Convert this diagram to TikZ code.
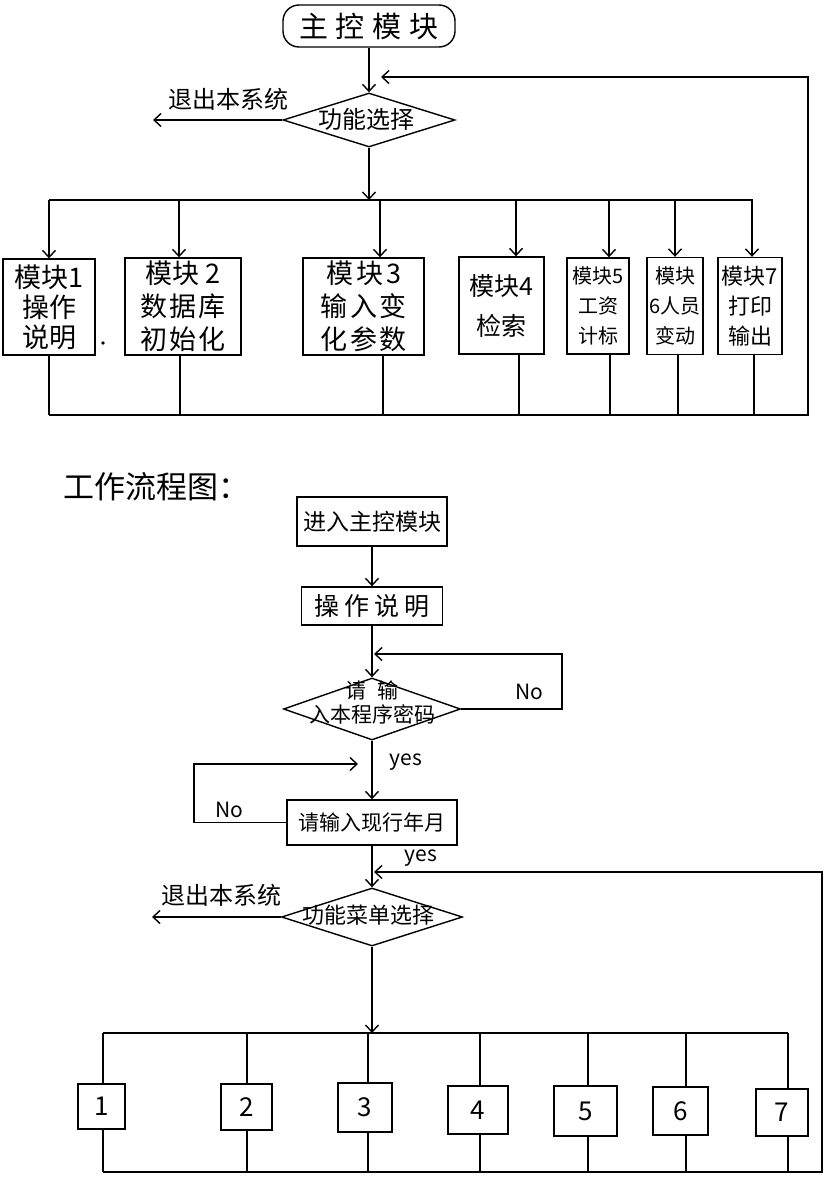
\documentclass[tikz,border=0pt]{standalone}
\usepackage{fontspec}
\setmainfont{Noto Sans CJK SC}
\usetikzlibrary{arrows.meta,shapes.geometric}
\newcommand{\myfs}[2]{\fontsize{#1pt}{#2pt}\selectfont}
\begin{document}
\begin{tikzpicture}[x=1pt,y=-1pt,line width=1.4pt,
  arr/.style={-{Straight Barb[length=7pt,width=13pt]}},
  box/.style={draw,rectangle,inner sep=0pt,align=center},
  dia/.style={draw,diamond,inner sep=0pt},
  lab/.style={inner sep=0pt,align=center}]
\useasboundingbox (0,0) rectangle (823,1177);

% ---------------- top diagram ----------------
\node[box,rounded corners=16pt,minimum width=172pt,minimum height=42pt,font=\myfs{29}{30}] (main) at (369,26) {主\hspace{8pt}控\hspace{8pt}模\hspace{8pt}块};
\node[dia,minimum width=172pt,minimum height=54pt] (d1) at (369,120) {};
\node[lab,font=\myfs{24}{26}] (d1t) at (366,119) {功能选择};
\coordinate (x1) at (153,120);
\node[lab,font=\myfs{24}{26}] (x1t) at (228,99) {退出本系统};
\draw[arr] (main) -- (d1);
\draw[arr] (d1.west) -- (x1);
\coordinate (bus1) at (369,200);
\draw[arr] (d1) -- (bus1);
\coordinate (bl1) at (49,200);
\coordinate (br1) at (753,200);
\draw (bl1) -- (br1);

\node[box,minimum width=92pt,minimum height=96pt,font=\myfs{27}{30}] (m1) at (49,307) {模块1\\操作\\说明};
\node[box,minimum width=116pt,minimum height=97pt,font=\myfs{27}{33}] (m2) at (183,306.5) {模块\hspace{6pt}2\\数\hspace{2pt}据\hspace{2pt}库\\初\hspace{2pt}始\hspace{2pt}化};
\node[box,minimum width=121pt,minimum height=97pt,font=\myfs{27}{33}] (m3) at (363.5,306.5) {模\hspace{3pt}块\hspace{3pt}3\\输\hspace{3pt}入\hspace{3pt}变\\化\hspace{3pt}参\hspace{3pt}数};
\node[box,minimum width=85pt,minimum height=97pt,font=\myfs{25}{26}] (m4) at (501.5,305.5) {模块4\\[14pt]检索};
\node[box,minimum width=62pt,minimum height=96pt,font=\myfs{20}{30}] (m5) at (598,306) {模块5\\工资\\计标};
\node[box,minimum width=56pt,minimum height=97pt,font=\myfs{20}{30}] (m6) at (675,306) {模块\\6人员\\变动};
\node[box,minimum width=64pt,minimum height=97pt,font=\myfs{22}{30}] (m7) at (750,306) {模块7\\打印\\输出};
\fill (103,343) circle (1.8pt);

\coordinate (t1) at (49,200);
\coordinate (t2) at (179,200);
\coordinate (t3) at (380,200);
\coordinate (t4) at (516,200);
\coordinate (t5) at (609,200);
\coordinate (t6) at (675,200);
\coordinate (t7) at (752,200);
\draw[arr] (t1) -- (t1 |- m1.north);
\draw[arr] (t2) -- (t2 |- m2.north);
\draw[arr] (t3) -- (t3 |- m3.north);
\draw[arr] (t4) -- (t4 |- m4.north);
\draw[arr] (t5) -- (t5 |- m5.north);
\draw[arr] (t6) -- (t6 |- m6.north);
\draw[arr] (t7) -- (t7 |- m7.north);

\coordinate (s1) at (49,415);
\coordinate (s2) at (180,415);
\coordinate (s3) at (383,415);
\coordinate (s4) at (519,415);
\coordinate (s5) at (610,415);
\coordinate (s6) at (678,415);
\coordinate (s7) at (754,415);
\draw (s1 |- m1.south) -- (s1);
\draw (s2 |- m2.south) -- (s2);
\draw (s3 |- m3.south) -- (s3);
\draw (s4 |- m4.south) -- (s4);
\draw (s5 |- m5.south) -- (s5);
\draw (s6 |- m6.south) -- (s6);
\draw (s7 |- m7.south) -- (s7);
\coordinate (bb1e) at (808,415);
\coordinate (r1) at (808,77);
\coordinate (r1e) at (381,77);
\draw[arr] (s1) -- (bb1e) -- (r1) -- (r1e);

% ---------------- bottom diagram ----------------
\node[lab,anchor=west,font=\myfs{31}{32}] (title) at (63,487) {工作流程图：};
\node[box,minimum width=150pt,minimum height=49pt,font=\myfs{23}{26}] (n1) at (372,521.5) {进入主控模块};
\node[box,minimum width=141pt,minimum height=38pt,font=\myfs{25}{28}] (n2) at (372,606) {操\hspace{5pt}作\hspace{5pt}说\hspace{5pt}明};
\node[dia,minimum width=177pt,minimum height=62pt] (d2) at (372,709) {};
\node[lab,font=\myfs{21}{24}] (d2t) at (372,703) {请\hspace{12pt}输\\入本程序密码};
\node[box,minimum width=170pt,minimum height=45pt,font=\myfs{21}{24}] (n3) at (372,822.5) {请输入现行年月};
\node[dia,minimum width=181pt,minimum height=58pt] (d3) at (372,917) {};
\node[lab,font=\myfs{22}{24}] (d3t) at (368,915) {功能菜单选择};

\draw[arr] (n1) -- (n2);
\draw[arr] (n2) -- (d2);
\draw[arr] (d2) -- (n3);
\draw[arr] (n3) -- (d3);

\coordinate (l1a) at (562,709);
\coordinate (l1b) at (562,654);
\coordinate (l1c) at (374,654);
\draw[arr] (d2.east) -- (l1a) -- (l1b) -- (l1c);
\node[lab,font=\myfs{21}{22}] (no1) at (529,692) {No};
\node[lab,font=\myfs{21}{22}] (yes1) at (406,762) {yes};

\coordinate (l2a) at (194,822.5);
\coordinate (l2b) at (194,764);
\coordinate (l2c) at (358,764);
\draw[arr] (n3.west) -- (l2a) -- (l2b) -- (l2c);
\node[lab,font=\myfs{21}{22}] (no2) at (229,810) {No};
\node[lab,font=\myfs{21}{22}] (yes2) at (421,858) {yes};

\coordinate (x2) at (152,917);
\draw[arr] (d3.west) -- (x2);
\node[lab,font=\myfs{24}{26}] (x2t) at (221,895) {退出本系统};

\coordinate (bus2) at (372,1033);
\draw[arr] (d3) -- (bus2);
\coordinate (bl2) at (103,1033);
\coordinate (br2) at (788,1033);
\draw (bl2) -- (br2);

\node[box,minimum width=47pt,minimum height=45pt,font=\myfs{26}{28}] (k1) at (101.5,1106.5) {1};
\node[box,minimum width=51pt,minimum height=46pt,font=\myfs{26}{28}] (k2) at (246.5,1107) {2};
\node[box,minimum width=54pt,minimum height=49pt,font=\myfs{26}{28}] (k3) at (365,1107.5) {3};
\node[box,minimum width=60pt,minimum height=48pt,font=\myfs{26}{28}] (k4) at (478,1110) {4};
\node[box,minimum width=63pt,minimum height=50pt,font=\myfs{26}{28}] (k5) at (585.5,1111) {5};
\node[box,minimum width=55pt,minimum height=48pt,font=\myfs{26}{28}] (k6) at (680.5,1111) {6};
\node[box,minimum width=52pt,minimum height=47pt,font=\myfs{26}{28}] (k7) at (782,1112.5) {7};

\coordinate (p1) at (103,1033);
\coordinate (p2) at (247,1033);
\coordinate (p3) at (368,1033);
\coordinate (p4) at (480,1033);
\coordinate (p5) at (588,1033);
\coordinate (p6) at (686,1033);
\coordinate (p7) at (788,1033);
\draw (p1) -- (p1 |- k1.north);
\draw (p2) -- (p2 |- k2.north);
\draw (p3) -- (p3 |- k3.north);
\draw (p4) -- (p4 |- k4.north);
\draw (p5) -- (p5 |- k5.north);
\draw (p6) -- (p6 |- k6.north);
\draw (p7) -- (p7 |- k7.north);

\coordinate (q1) at (103,1172);
\coordinate (q2) at (247,1172);
\coordinate (q3) at (368,1172);
\coordinate (q4) at (480,1172);
\coordinate (q5) at (588,1172);
\coordinate (q6) at (686,1172);
\coordinate (q7) at (788,1172);
\draw (q1 |- k1.south) -- (q1);
\draw (q2 |- k2.south) -- (q2);
\draw (q3 |- k3.south) -- (q3);
\draw (q4 |- k4.south) -- (q4);
\draw (q5 |- k5.south) -- (q5);
\draw (q6 |- k6.south) -- (q6);
\draw (q7 |- k7.south) -- (q7);
\coordinate (r3a) at (822,1172);
\coordinate (r3b) at (822,872);
\coordinate (r3c) at (374,872);
\draw[arr] (q1) -- (r3a) -- (r3b) -- (r3c);
\end{tikzpicture}
\end{document}
